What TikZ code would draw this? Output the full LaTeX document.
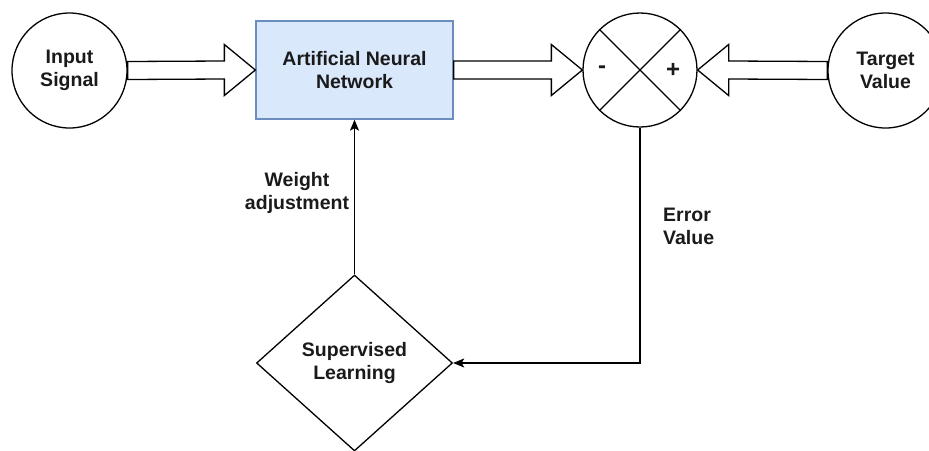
\documentclass[tikz,border=0pt]{standalone}
\usepackage{fontspec}
\setmainfont{Liberation Sans}
\usetikzlibrary{shapes.geometric,arrows.meta,calc}

\definecolor{annfill}{HTML}{DAE8FC}
\definecolor{anndraw}{HTML}{6C8EBF}
\definecolor{ink}{HTML}{1A1A1A}

\tikzset{
  lbl/.style={font=\fontsize{19.5}{23}\selectfont\bfseries, align=center, text=ink},
  signlbl/.style={font=\fontsize{24}{24}\selectfont\bfseries, text=ink},
  terminal/.style={lbl, circle, draw, fill=white, line width=1.3pt,
    minimum size=115pt, inner sep=0pt},
  netbox/.style={lbl, rectangle, draw=anndraw, fill=annfill, line width=1.3pt,
    minimum width=197pt, minimum height=98pt, inner sep=0pt},
  sumjunction/.style={circle, draw, fill=white, line width=1.3pt,
    minimum size=114pt, inner sep=0pt},
  decision/.style={lbl, diamond, draw, fill=white, line width=1.3pt,
    minimum width=196pt, minimum height=176pt, inner sep=0pt},
  signal/.style={line width=1.3pt, -{Stealth[length=11pt,width=9pt,inset=2.5pt]}},
  % hollow block arrow; #1 = +1 points right, -1 points left
  blockarrow/.style={draw, fill=white, line width=1.3pt, line join=miter,
    to path={([yshift=9pt]\tikztostart)
      -- ([xshift={-31pt*(#1)},yshift=9pt]\tikztotarget)
      -- ([xshift={-31pt*(#1)},yshift=25.5pt]\tikztotarget)
      -- (\tikztotarget)
      -- ([xshift={-31pt*(#1)},yshift=-25.5pt]\tikztotarget)
      -- ([xshift={-31pt*(#1)},yshift=-9pt]\tikztotarget)
      -- ([yshift=-9pt]\tikztostart) -- cycle}},
}

\begin{document}
\begin{tikzpicture}[x=1pt, y=-1pt]
  \useasboundingbox (0,0) rectangle (929,450);
  \clip (0,0) rectangle (929,450);

  % blocks
  \node[terminal] (in)  at (69.5,70.5)  {Input\\Signal};
  \node[netbox]   (ann) at (354.5,70)   {Artificial Neural\\Network};
  \node[sumjunction] (sum) at (640,70) {};
  \node[terminal] (tgt) at (885.5,70.5) {Target\\Value};
  \node[decision] (sl)  at (354.5,363)  {Supervised\\Learning};

  % cross inside the summing junction and its signs
  \draw[line width=1.3pt] (sum.north west) -- (sum.south east);
  \draw[line width=1.3pt] (sum.north east) -- (sum.south west);
  \node[signlbl] (minus) at ([xshift=-38pt]sum.center) {-};
  \node[signlbl] (plus)  at ([xshift=33pt]sum.center)  {+};

  % forward signal path
  \draw[blockarrow=1]  (in.east)  to (ann.west);
  \draw[blockarrow=1]  (ann.east) to (sum.west);
  \draw[blockarrow=-1] (tgt.west) to (sum.east);

  % feedback loop
  \draw[signal] (sum.south) |- (sl.east);
  \draw[signal] (sl.north) -- (ann.south);

  % loop labels
  \node[lbl] (wlbl) at (297,193) {Weight\\adjustment};
  \node[lbl, align=left, anchor=west, inner sep=0pt] (elbl) at (663,226) {Error\\Value};
\end{tikzpicture}
\end{document}
